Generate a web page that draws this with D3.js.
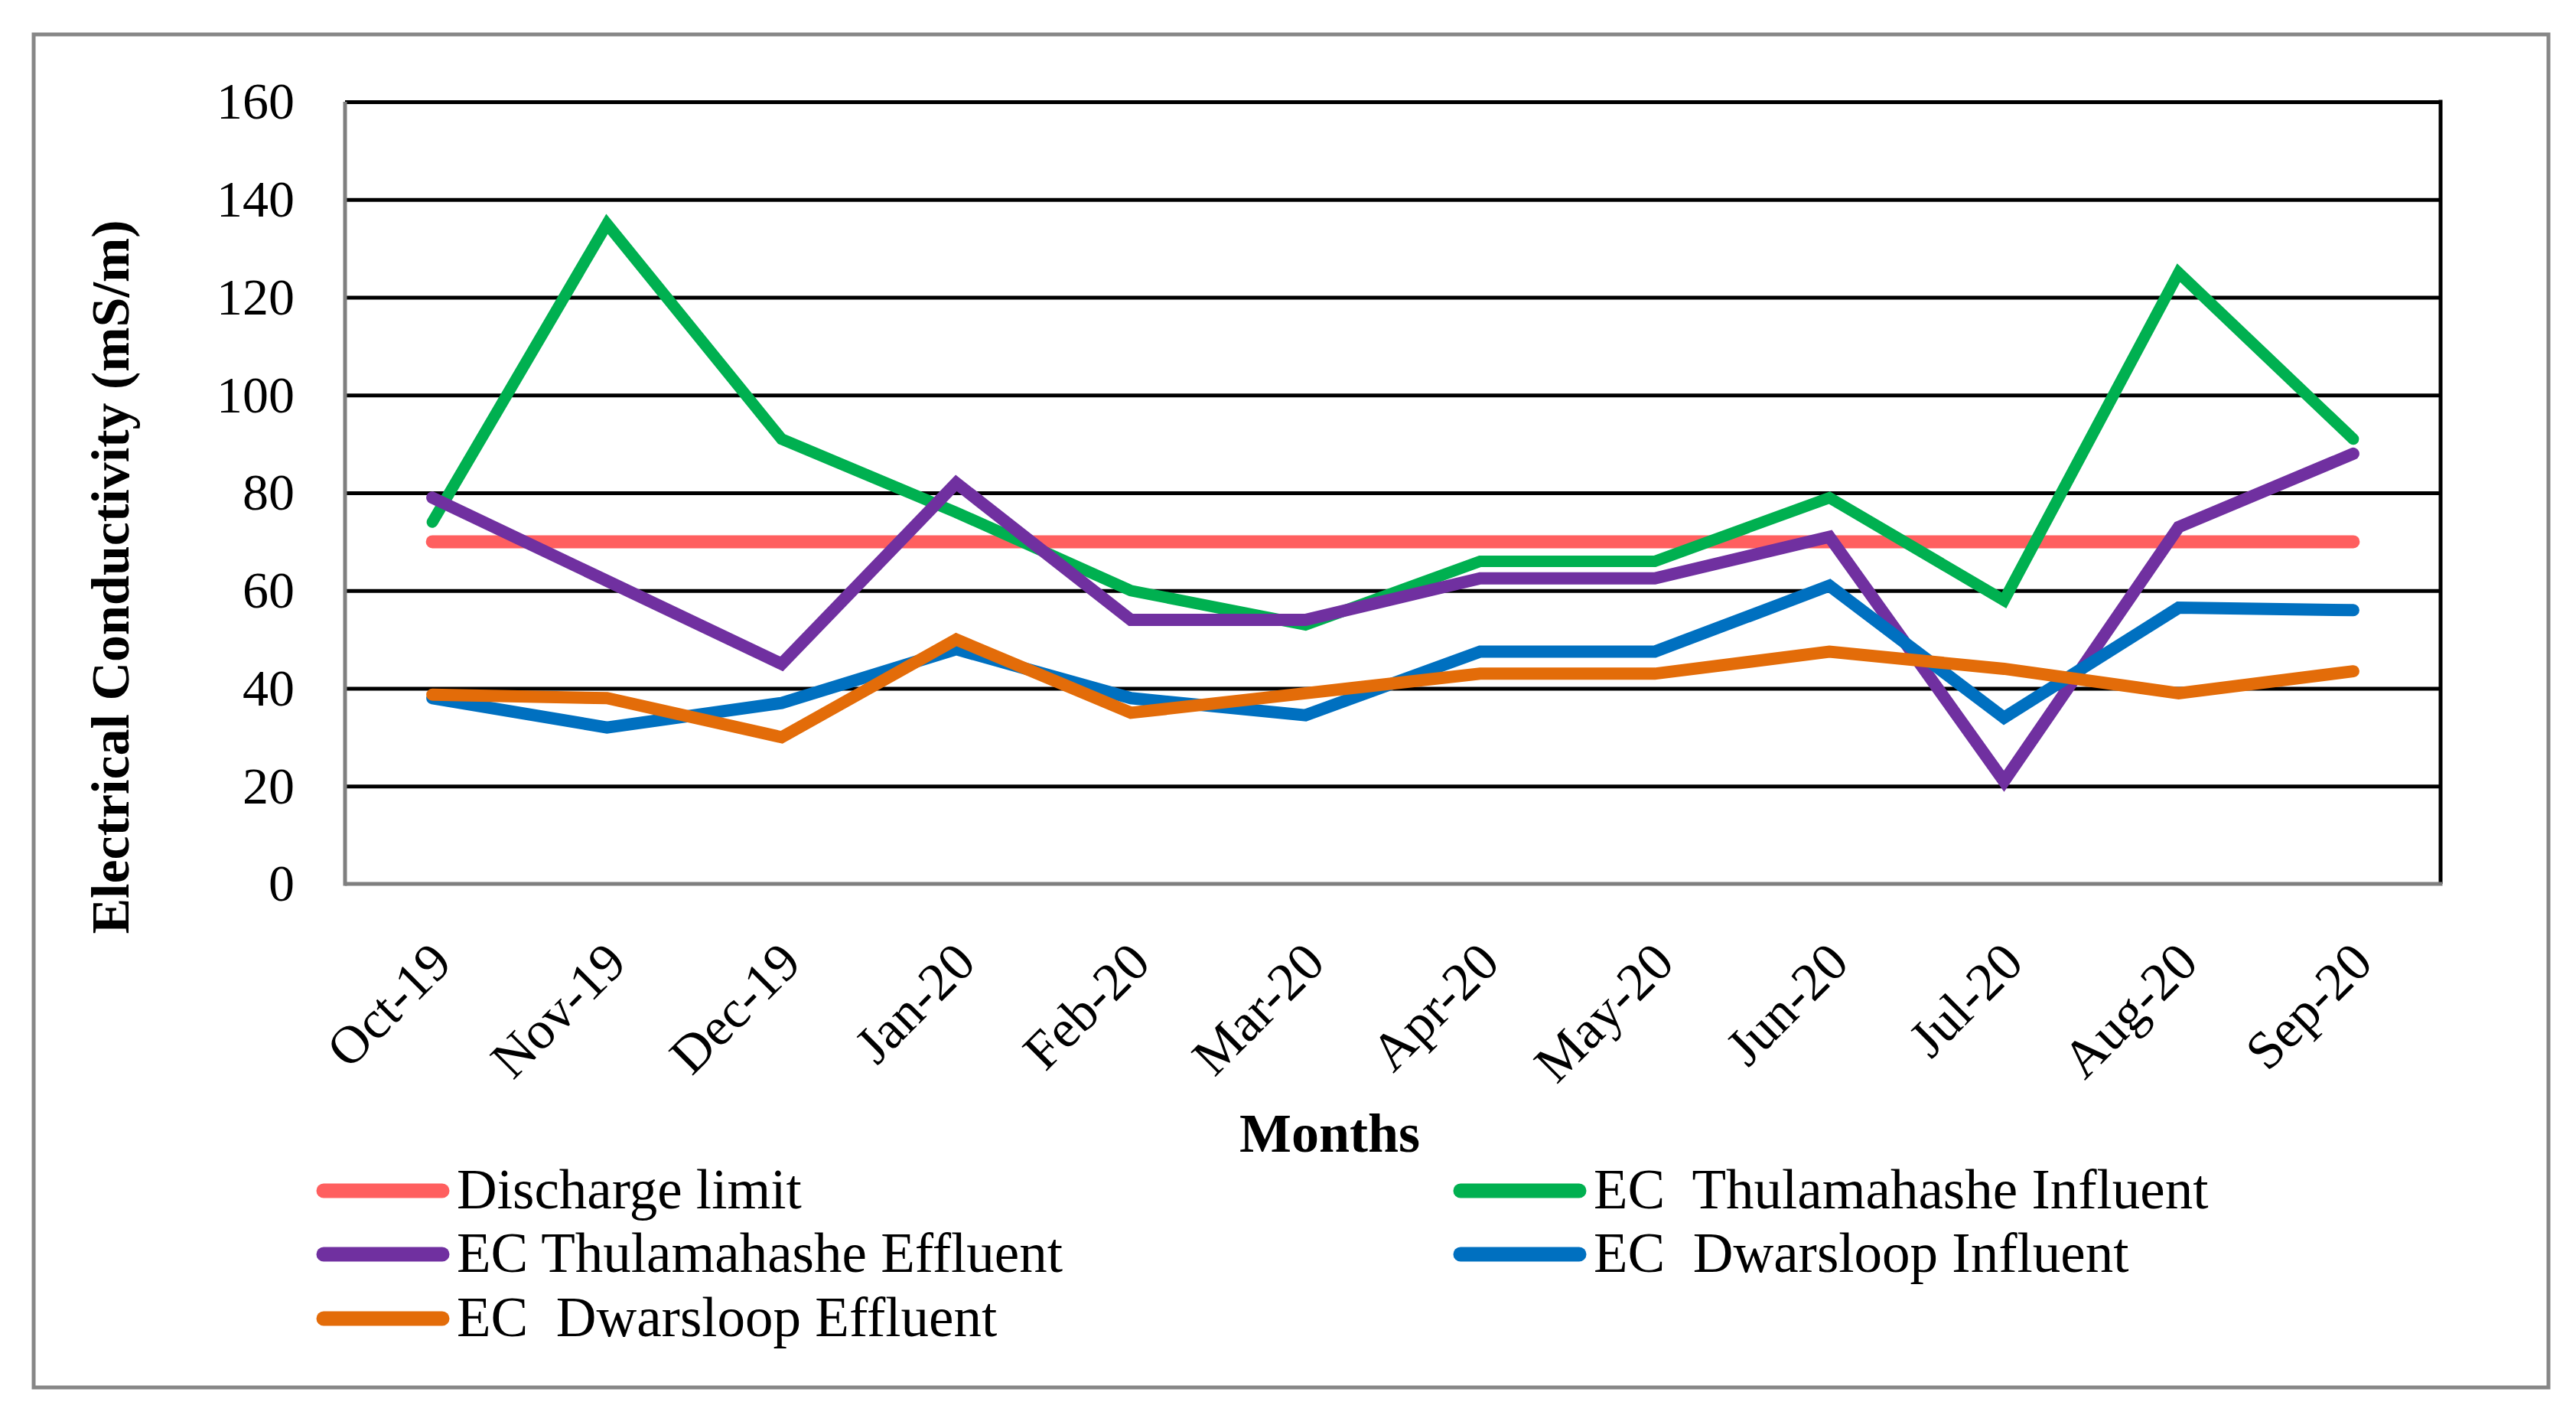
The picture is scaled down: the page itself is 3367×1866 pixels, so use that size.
<!DOCTYPE html>
<html>
<head>
<meta charset="utf-8">
<script src="https://cdn.jsdelivr.net/npm/d3@7"></script>
<style>
  body { margin: 0; background: #fff; }
  svg text { font-family: "Liberation Serif", "Times New Roman", serif; fill: #000; }
</style>
</head>
<body>
<div id="chart"></div>
<script>
// Chart data
const months = ["Oct-19", "Nov-19", "Dec-19", "Jan-20", "Feb-20", "Mar-20",
  "Apr-20", "May-20", "Jun-20", "Jul-20", "Aug-20", "Sep-20"];
const yTicks = [0, 20, 40, 60, 80, 100, 120, 140, 160];

const dischargeLimit = [70, 70, 70, 70, 70, 70, 70, 70, 70, 70, 70, 70];
const thulInfluent = [74, 135, 91, 76, 60, 53, 66, 66, 79, 58, 125, 91];
const thulEffluent = [79, 62, 45, 82, 54, 54, 62.5, 62.5, 71, 21, 73, 88];
const dwarsInfluent = [38, 32, 37, 48, 38, 34.5, 47.5, 47.5, 61, 34, 56.5, 56];
const dwarsEffluent = [38.7, 38, 30, 50, 35, 39, 43, 43, 47.5, 44, 39, 43.5];

const seriesNames = ["Discharge limit", "EC  Thulamahashe Influent", "EC Thulamahashe Effluent",
  "EC  Dwarsloop Influent", "EC  Dwarsloop Effluent"];
const seriesColors = ["#ff5f5f", "#00b050", "#7030a0", "#0070c0", "#e36c09"];
const seriesValues = [dischargeLimit, thulInfluent, thulEffluent, dwarsInfluent, dwarsEffluent];
const seriesWidths = [17, 15, 16, 16, 16];

const W = 3367, H = 1866;
const plot = { left: 451, right: 3190, top: 133, bottom: 1155 };

const svg = d3.select("#chart").append("svg")
  .attr("width", W).attr("height", H);

// Outer frame
svg.append("rect")
  .attr("x", 44).attr("y", 45)
  .attr("width", 3331 - 44).attr("height", 1813 - 45)
  .attr("fill", "#fff")
  .attr("stroke", "#878787")
  .attr("stroke-width", 5);

// Scales
const x = d3.scalePoint().domain(months).range([plot.left, plot.right]).padding(0.5);
const y = d3.scaleLinear().domain([0, 160]).range([plot.bottom, plot.top]);

// Gridlines + y labels
const yAxis = svg.append("g")
  .attr("transform", `translate(${plot.left},0)`)
  .call(d3.axisLeft(y).tickValues(yTicks).tickSize(-(plot.right - plot.left)).tickPadding(66));
yAxis.select(".domain").remove();
yAxis.selectAll(".tick line")
  .attr("stroke", (d) => (d === 0 ? "none" : "#000"))
  .attr("stroke-width", 5);
yAxis.selectAll(".tick text")
  .attr("font-size", 68)
  .attr("font-family", "Liberation Serif");

// Right border (black), left and bottom axis (gray)
svg.append("line")
  .attr("x1", plot.right).attr("x2", plot.right)
  .attr("y1", y(160) - 2.5).attr("y2", y(0))
  .attr("stroke", "#000").attr("stroke-width", 5);
svg.append("line")
  .attr("x1", plot.left).attr("x2", plot.left)
  .attr("y1", y(160)).attr("y2", y(0) + 2.5)
  .attr("stroke", "#7f7f7f").attr("stroke-width", 5);
svg.append("line")
  .attr("x1", plot.left).attr("x2", plot.right + 2.5)
  .attr("y1", y(0)).attr("y2", y(0))
  .attr("stroke", "#7f7f7f").attr("stroke-width", 5);

// X labels
svg.append("g").selectAll("text")
  .data(months)
  .join("text")
  .attr("transform", (d) => `translate(${x(d) + 12},${plot.bottom + 90}) rotate(-45)`)
  .attr("text-anchor", "end")
  .attr("dy", "0.33em")
  .attr("font-size", 70)
  .text((d) => d);

// Lines
const line = d3.line()
  .x((d, i) => x(months[i]))
  .y((d) => y(d));

seriesValues.forEach((vals, i) => {
  svg.append("path")
    .datum(vals)
    .attr("fill", "none")
    .attr("stroke", seriesColors[i])
    .attr("stroke-width", seriesWidths[i])
    .attr("stroke-linecap", "round")
    .attr("stroke-linejoin", "miter")
    .attr("d", line);
});

// Axis titles
svg.append("text")
  .text("Months")
  .attr("x", 1738).attr("y", 1505)
  .attr("text-anchor", "middle")
  .attr("font-size", 72)
  .attr("font-weight", "bold");

svg.append("text")
  .text("Electrical Conductivity (mS/m)")
  .attr("transform", "translate(168,754) rotate(-90)")
  .attr("text-anchor", "middle")
  .attr("font-size", 70)
  .attr("font-weight", "bold");

// Legend
const legendPos = [
  { x: 414, y: 1556 }, { x: 1900, y: 1556 },
  { x: 414, y: 1639 }, { x: 1900, y: 1639 },
  { x: 414, y: 1723 }
];
const legend = svg.append("g");
seriesNames.forEach((name, i) => {
  const p = legendPos[i];
  legend.append("line")
    .attr("x1", p.x + 9).attr("x2", p.x + 164)
    .attr("y1", p.y).attr("y2", p.y)
    .attr("stroke", seriesColors[i])
    .attr("stroke-width", 19)
    .attr("stroke-linecap", "round");
  legend.append("text")
    .attr("x", p.x + 183).attr("y", p.y + 23)
    .attr("font-size", 73)
    .style("white-space", "pre")
    .text(name);
});
</script>
</body>
</html>
